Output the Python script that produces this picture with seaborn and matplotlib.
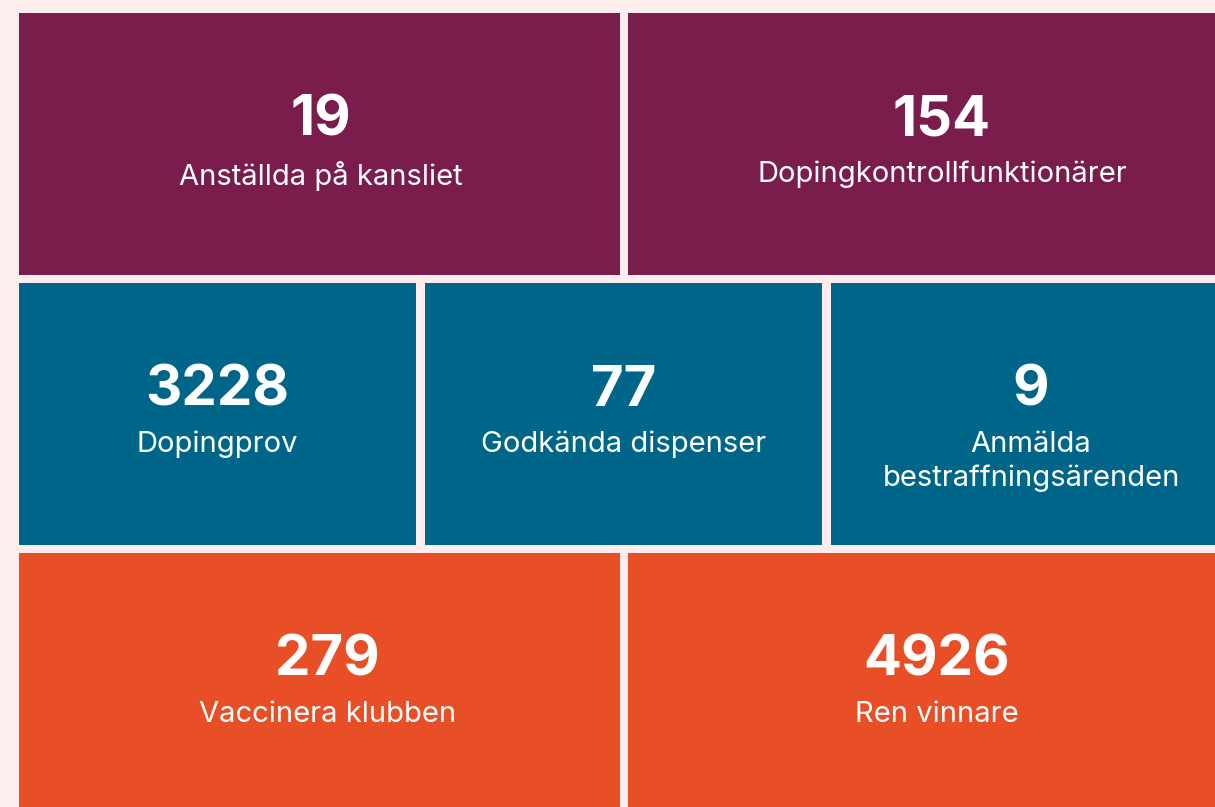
import matplotlib
matplotlib.use("Agg")
import matplotlib.pyplot as plt
import seaborn as sns

# ---- data ----
row1_values = ["19", "154"]
row1_labels = ["Anställda på kansliet", "Dopingkontrollfunktionärer"]
row2_values = ["3228", "77", "9"]
row2_labels = ["Dopingprov", "Godkända dispenser", "Anmälda\nbestraffningsärenden"]
row3_values = ["279", "4926"]
row3_labels = ["Vaccinera klubben", "Ren vinnare"]

PURPLE = "#7A1C4C"
TEAL = "#006689"
ORANGE = "#E84F26"
BG = "#FDEDEC"

sns.set_theme(style="white")
plt.rcParams["font.family"] = ["Inter", "DejaVu Sans"]

fig = plt.figure(figsize=(12.15, 8.07), dpi=100, facecolor=BG)
ax = fig.add_axes([0, 0, 1, 1])
ax.set_facecolor(BG)
ax.set_xlim(0, 1215)
ax.set_ylim(807, 0)
ax.axis("off")

# layout (pixels)
rows = [
    dict(values=row1_values, labels=row1_labels, color=PURPLE, top=13,
         lefts=[19, 628], widths=[601, 628], text_dx=[1, 0]),
    dict(values=row2_values, labels=row2_labels, color=TEAL, top=283,
         lefts=[19, 425, 831], widths=[397, 397, 400], text_dx=[0, 0, 0]),
    dict(values=row3_values, labels=row3_labels, color=ORANGE, top=553,
         lefts=[19, 628], widths=[601, 628], text_dx=[8, -5]),
]
H = 262

for r in rows:
    ax.bar(r["lefts"], [H] * len(r["lefts"]), width=r["widths"], bottom=r["top"],
           align="edge", color=r["color"], linewidth=0)
    for left, w, dx, v, lab in zip(r["lefts"], r["widths"], r["text_dx"],
                                   r["values"], r["labels"]):
        cx = left + w / 2 + dx
        ax.text(cx, r["top"] + 108, v, ha="center", va="center", color="white",
                fontsize=40.5, fontweight="bold")
        ax.text(cx, r["top"] + 148, lab, ha="center", va="top", color="white",
                fontsize=21, linespacing=1.32)

fig.savefig("out.png", dpi=100, facecolor=BG)
